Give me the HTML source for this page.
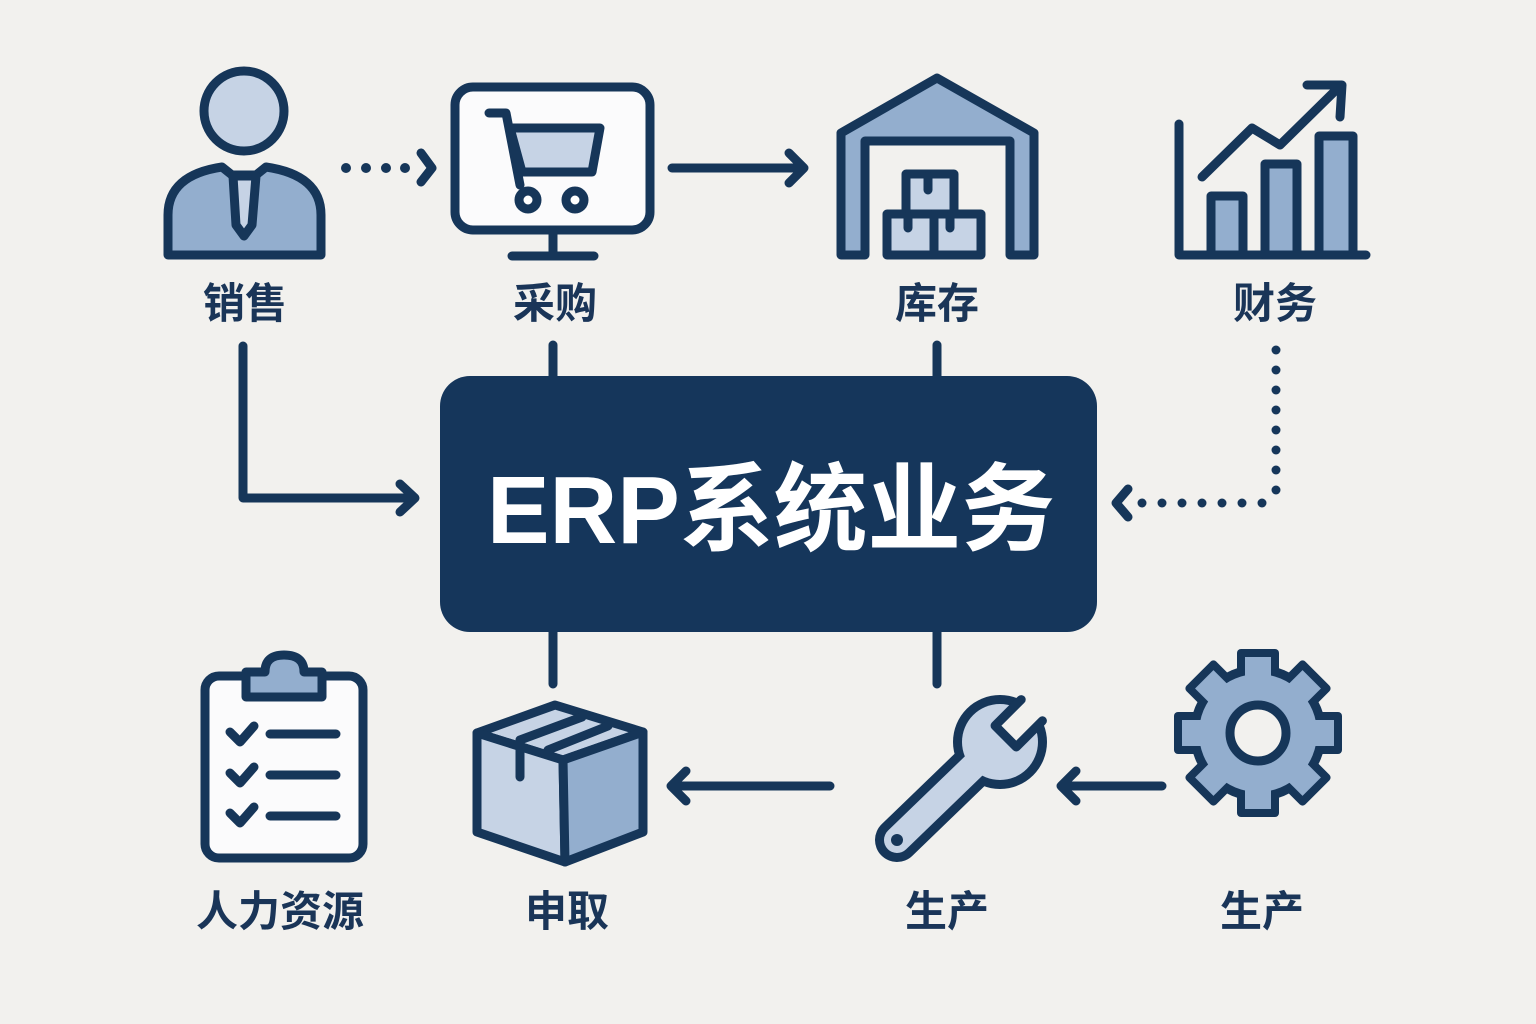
<!DOCTYPE html>
<html><head><meta charset="utf-8"><style>
html,body{margin:0;padding:0;background:#f2f1ee;}
svg{display:block}
.lb{font-family:"Liberation Sans","Noto Sans CJK SC",sans-serif;font-weight:bold;font-size:42px;fill:#1a3558;text-anchor:middle}
</style></head><body>
<svg width="1536" height="1024" viewBox="0 0 1536 1024" xmlns="http://www.w3.org/2000/svg">
<rect width="1536" height="1024" fill="#f2f1ee"/>
<g stroke="#163659" stroke-width="9" stroke-linecap="round" stroke-linejoin="round">
<!-- person -->
<circle cx="244" cy="111" r="40" fill="#c6d3e5"/>
<path d="M168,255 L168,215 Q168,175 222,167 L232,175 L256,175 L266,167 Q321,175 321,215 L321,255 Z" fill="#93aece"/>
<path d="M233,176 L256,176 L252,225 L244,236 L236,225 Z" fill="#c6d3e5"/>
<!-- dotted arrow -->
<g fill="#163659" stroke="none"><circle cx="346" cy="168" r="5"/><circle cx="366" cy="168" r="5"/><circle cx="386" cy="168" r="5"/><circle cx="405" cy="168" r="5"/></g>
<path d="M421,153 L432,168 L421,182" fill="none"/>
<!-- monitor -->
<rect x="455" y="87" width="195" height="143" rx="18" fill="#fbfbfc"/>
<path d="M553,230 L553,256 M512,256 L594,256" fill="none"/>
<path d="M489,113 L506,113 L520,185" fill="none"/>
<path d="M510,128 L600,128 L592,172 L522,172 Z" fill="#c6d3e5"/>
<circle cx="528" cy="200" r="9" fill="#fff"/><circle cx="575" cy="200" r="9" fill="#fff"/>
<!-- arrow -->
<path d="M672,168 L802,168 M789,153 L804,168 L789,183" fill="none"/>
<!-- warehouse -->
<path d="M841,255 L841,133 L937,78 L1034,133 L1034,255 L1010,255 L1010,141 L865,141 L865,255 Z" fill="#93aece"/>
<rect x="906" y="174" width="48" height="40" fill="#c6d3e5"/>
<rect x="887" y="214" width="47" height="41" fill="#c6d3e5"/>
<rect x="934" y="214" width="47" height="41" fill="#c6d3e5"/>
<path d="M928,176 L928,190 M908,216 L908,228 M950,216 L950,228" fill="none"/>
<!-- chart -->
<path d="M1179,124 L1179,255 L1366,255" fill="none"/>
<rect x="1211" y="196" width="32" height="59" fill="#93aece"/>
<rect x="1265" y="164" width="32" height="91" fill="#93aece"/>
<rect x="1319" y="136" width="34" height="119" fill="#93aece"/>
<path d="M1202,177 L1252,128 L1280,145 L1338,88 M1307,85 L1342,85 L1340,117" fill="none"/>
<!-- connectors -->
<path d="M553,345 L553,376 M937,345 L937,376 M553,632 L553,684 M937,632 L937,684" fill="none"/>
<path d="M243,346 L243,498 L413,498 M400,484 L415,498 L400,512" fill="none"/>
</g>
<g fill="#163659">
<circle cx="1276" cy="350" r="4.5"/><circle cx="1276" cy="370" r="4.5"/><circle cx="1276" cy="390" r="4.5"/><circle cx="1276" cy="410" r="4.5"/><circle cx="1276" cy="430" r="4.5"/><circle cx="1276" cy="450" r="4.5"/><circle cx="1276" cy="470" r="4.5"/><circle cx="1276" cy="490" r="4.5"/>
<circle cx="1262" cy="503" r="4.5"/><circle cx="1242" cy="503" r="4.5"/><circle cx="1222" cy="503" r="4.5"/><circle cx="1202" cy="503" r="4.5"/><circle cx="1182" cy="503" r="4.5"/><circle cx="1162" cy="503" r="4.5"/><circle cx="1142" cy="503" r="4.5"/>
</g>
<path d="M1128,489 L1116,503 L1128,517" fill="none" stroke="#163659" stroke-width="9" stroke-linecap="round" stroke-linejoin="round"/>
<!-- central box -->
<rect x="440" y="376" width="657" height="256" rx="30" fill="#15365b"/>
<text x="487" y="543" textLength="568" lengthAdjust="spacingAndGlyphs" font-family="'Liberation Sans','Noto Sans CJK SC',sans-serif" font-weight="bold" font-size="96" fill="#fff">ERP系统业务</text>
<!-- labels -->
<text class="lb" x="245" y="318">销售</text>
<text class="lb" x="555" y="318">采购</text>
<text class="lb" x="937" y="318">库存</text>
<text class="lb" x="1275" y="318">财务</text>
<text class="lb" x="280" y="926">人力资源</text>
<text class="lb" x="567" y="926">申取</text>
<text class="lb" x="947" y="926">生产</text>
<text class="lb" x="1262" y="926">生产</text>
<g stroke="#163659" stroke-width="9" stroke-linecap="round" stroke-linejoin="round">
<!-- clipboard -->
<rect x="205" y="676" width="158" height="182" rx="14" fill="#fbfbfc"/>
<path d="M246,672 L265,672 Q265,655 284,655 Q304,655 304,672 L322,672 L322,697 L246,697 Z" fill="#93aece"/>
<path d="M230,732 L240,742 L254,726 M230,773 L240,783 L254,767 M230,813 L240,823 L254,807" fill="none"/>
<path d="M270,734 L336,734 M270,775 L336,775 M270,816 L336,816" fill="none"/>
<!-- cube -->
<path d="M477,733 L555,705 L643,732 L563,760 Z" fill="#c6d3e5"/>
<path d="M477,733 L563,760 L565,862 L477,832 Z" fill="#c6d3e5"/>
<path d="M563,760 L643,732 L643,832 L565,862 Z" fill="#93aece"/>
<path d="M582,717 L520,740 L520,777 M608,726 L548,750" fill="none"/>
<!-- arrows -->
<path d="M830,786 L672,786 M686,771 L671,786 L686,801" fill="none"/>
<path d="M1162,786 L1062,786 M1076,771 L1061,786 L1076,801" fill="none"/>
</g>
<!-- wrench -->
<g stroke-linecap="round">
<line x1="897" y1="840" x2="985" y2="755" stroke="#163659" stroke-width="44"/>
<circle cx="1000" cy="742" r="47" fill="#163659"/>
<line x1="897" y1="840" x2="985" y2="755" stroke="#c6d3e5" stroke-width="26"/>
<circle cx="1000" cy="742" r="38" fill="#c6d3e5"/>
<g transform="translate(1000,742) rotate(-45)">
<rect x="8" y="-15" width="60" height="30" fill="#f2f1ee"/>
<path d="M45,-15 L8,-15 L8,15 L45,15" fill="none" stroke="#163659" stroke-width="9" stroke-linejoin="round"/>
</g>
<circle cx="897" cy="840" r="6" fill="#163659"/>
</g>
<!-- gear -->
<g transform="translate(1258,733)">
<g fill="#163659">
<circle r="68"/>
<rect x="-21" y="-84" width="42" height="40" rx="4"/>
<rect x="-21" y="-84" width="42" height="40" rx="4" transform="rotate(45)"/>
<rect x="-21" y="-84" width="42" height="40" rx="4" transform="rotate(90)"/>
<rect x="-21" y="-84" width="42" height="40" rx="4" transform="rotate(135)"/>
<rect x="-21" y="-84" width="42" height="40" rx="4" transform="rotate(180)"/>
<rect x="-21" y="-84" width="42" height="40" rx="4" transform="rotate(225)"/>
<rect x="-21" y="-84" width="42" height="40" rx="4" transform="rotate(270)"/>
<rect x="-21" y="-84" width="42" height="40" rx="4" transform="rotate(315)"/>
</g>
<g fill="#93aece">
<circle r="59"/>
<rect x="-13" y="-76" width="26" height="36"/>
<rect x="-13" y="-76" width="26" height="36" transform="rotate(45)"/>
<rect x="-13" y="-76" width="26" height="36" transform="rotate(90)"/>
<rect x="-13" y="-76" width="26" height="36" transform="rotate(135)"/>
<rect x="-13" y="-76" width="26" height="36" transform="rotate(180)"/>
<rect x="-13" y="-76" width="26" height="36" transform="rotate(225)"/>
<rect x="-13" y="-76" width="26" height="36" transform="rotate(270)"/>
<rect x="-13" y="-76" width="26" height="36" transform="rotate(315)"/>
</g>
<circle r="28" fill="#f2f1ee" stroke="#163659" stroke-width="9"/>
</g>
</svg>
</body></html>
